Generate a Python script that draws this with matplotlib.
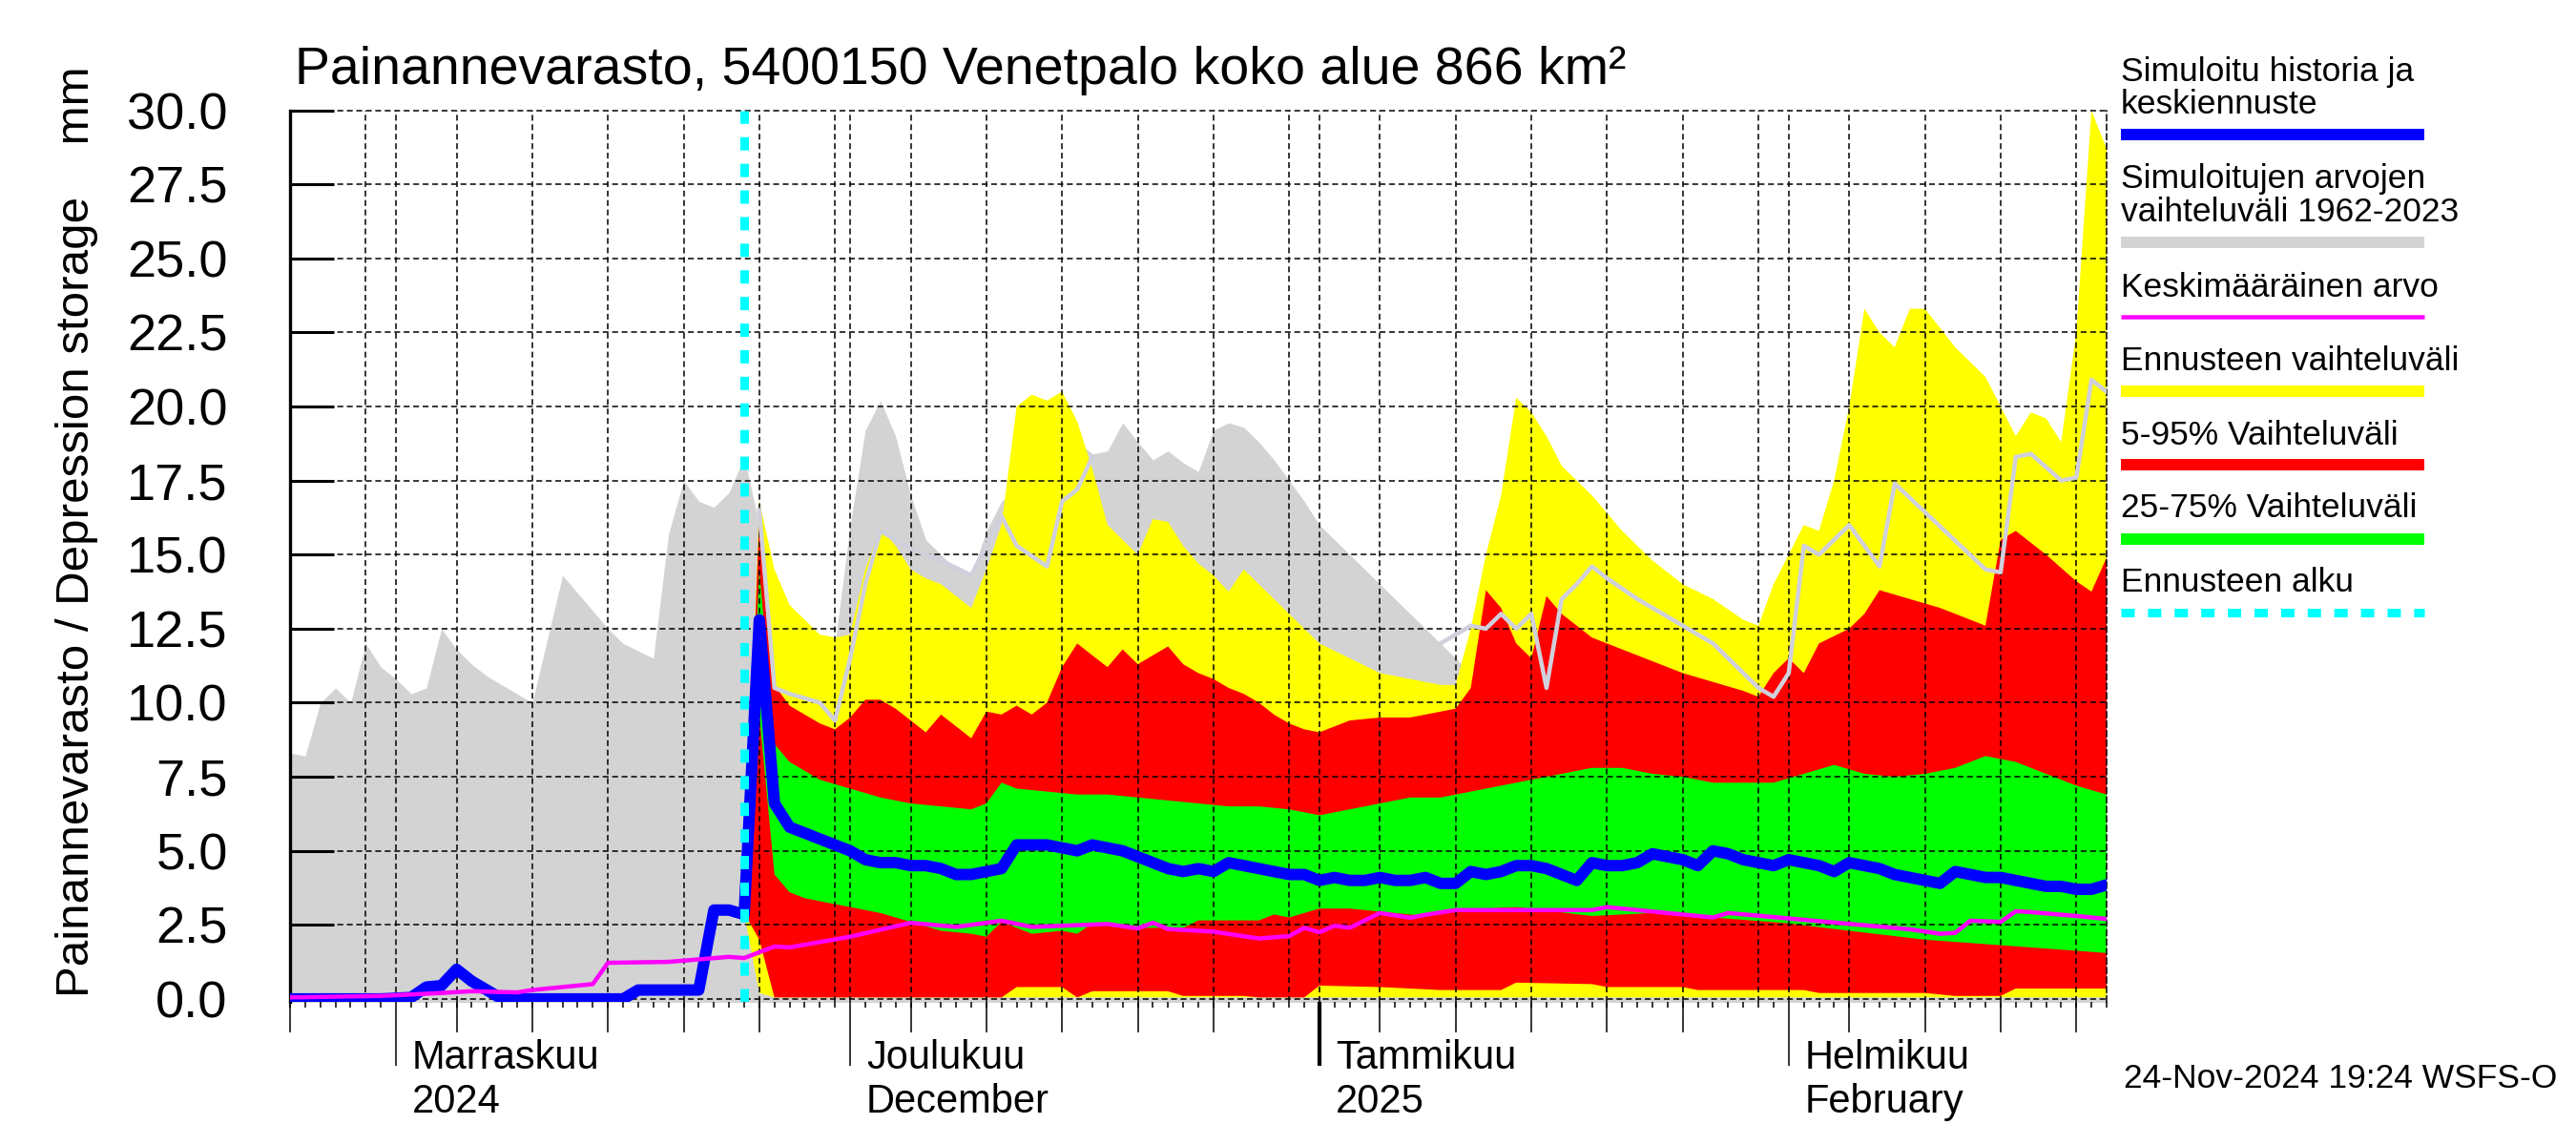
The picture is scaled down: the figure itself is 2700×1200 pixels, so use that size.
import datetime as dt
import matplotlib
matplotlib.use("Agg")
import matplotlib.pyplot as plt
import matplotlib.dates as mdates
from matplotlib.lines import Line2D
from matplotlib.ticker import FixedLocator, NullLocator

plt.rcParams['font.family'] = ['Liberation Sans', 'DejaVu Sans']

W, H = 2700, 1200
start = dt.datetime(2024, 10, 25)
fc_start = 30   # 24.11.2024

# --- data (day offsets from 25.10.2024) ---
gray_d = [0, 1, 2, 3, 4, 5, 6, 7, 8, 9, 10, 11, 12, 13, 14, 16, 18, 19, 20, 21, 22, 24, 25, 26, 27, 28, 29, 30,
          31, 32, 33, 34, 35, 36, 37, 38, 39, 40, 41, 42, 43, 44, 45, 46, 47, 48, 49, 50, 51, 52, 53, 54,
          55, 56, 57, 58, 59, 60, 61, 62, 63, 64, 65, 66, 67, 68, 70, 72, 74, 76, 78, 79, 80, 83, 86, 89,
          94, 98, 100, 103, 106, 112, 114, 118, 119, 120]
gray_v = [8.3, 8.2, 10.0, 10.5, 10.0, 12.0, 11.2, 10.8, 10.3, 10.5, 12.5, 11.8, 11.3, 10.9, 10.6, 10.0, 14.3,
          13.7, 13.1, 12.5, 12.0, 11.5, 15.7, 17.5, 16.8, 16.6, 17.1, 18.3,
          16.0, 13.5, 12.0, 12.1, 12.3, 12.0, 16.0, 19.2, 20.2, 19.0, 17.0, 15.5, 15.0, 14.5, 14.3, 15.8,
          16.8, 17.2, 17.6, 18.3, 18.6, 18.8, 18.4, 18.5, 19.45, 18.8, 18.2, 18.5, 18.1, 17.8, 19.2, 19.45,
          19.3, 18.8, 18.2, 17.5, 16.8, 16.0, 15.0, 14.0, 13.0, 12.0, 11.0, 12.5, 13.0, 10.5, 14.6, 13.5,
          12.0, 10.2, 15.3, 16.0, 17.4, 14.5, 18.3, 17.6, 20.9, 20.5]

ymax_d = [30, 31, 32, 33, 34, 35, 36, 37, 38, 39, 40, 41, 42, 43, 44, 45, 46, 47, 48, 49, 50, 51, 52, 53,
          54, 55, 56, 57, 58, 59, 60, 61, 62, 63, 64, 66, 68, 70, 72, 74, 76, 77, 78, 79, 80, 81, 82, 83,
          84, 86, 88, 90, 92, 94, 96, 97, 98, 99, 100, 101, 102, 103, 104, 105, 106, 107, 108, 110, 112,
          113, 114, 115, 116, 117, 118, 119, 120]
ymax_v = [2.9, 16.8, 14.5, 13.3, 12.8, 12.3, 12.2, 12.3, 14.5, 15.9, 15.3, 14.5, 14.2, 14.0, 13.6, 13.2,
          14.5, 16.0, 20.0, 20.4, 20.2, 20.5, 19.5, 17.9, 16.0, 15.5, 15.0, 16.2, 16.1, 15.3, 14.7, 14.3,
          13.75, 14.5, 14.0, 13.0, 12.0, 11.5, 11.0, 10.8, 10.6, 10.6, 12.5, 15.0, 17.0, 20.3, 19.8, 19.0,
          18.0, 17.0, 15.8, 14.8, 14.0, 13.5, 12.8, 12.6, 14.0, 15.0, 16.0, 15.8, 17.5, 20.0, 23.3, 22.5,
          22.0, 23.3, 23.3, 22.0, 21.0, 20.0, 19.0, 19.8, 19.6, 18.8, 22.5, 30.0, 28.7]
ymin_d = [30, 31, 32, 120]
ymin_v = [2.9, 0.2, 0.05, 0.05]

r95_d = [30, 31, 32, 33, 34, 35, 36, 37, 38, 39, 40, 41, 42, 43, 44, 45, 46, 47, 48, 49, 50, 51, 52, 53,
         54, 55, 56, 57, 58, 59, 60, 61, 62, 63, 64, 65, 66, 67, 68, 69, 70, 72, 74, 76, 77, 78, 79, 80,
         81, 82, 83, 84, 85, 86, 88, 90, 92, 94, 96, 97, 98, 99, 100, 101, 103, 104, 105, 107, 109, 111,
         112, 113, 114, 116, 118, 119, 120]
r95_v = [2.9, 16.3, 10.6, 9.9, 9.6, 9.3, 9.1, 9.5, 10.1, 10.1, 9.8, 9.4, 9.0, 9.6, 9.2, 8.8, 9.7, 9.6,
         9.9, 9.6, 10.0, 11.2, 12.0, 11.6, 11.2, 11.8, 11.3, 11.6, 11.9, 11.3, 11.0, 10.8, 10.5, 10.3,
         10.0, 9.6, 9.3, 9.1, 9.0, 9.2, 9.4, 9.5, 9.5, 9.7, 9.8, 10.5, 13.8, 13.2, 12.0, 11.5, 13.6, 13.0,
         12.6, 12.2, 11.8, 11.4, 11.0, 10.7, 10.4, 10.2, 11.0, 11.5, 11.0, 12.0, 12.5, 13.0, 13.8, 13.5,
         13.2, 12.8, 12.6, 15.5, 15.8, 15.0, 14.1, 13.75, 14.9]
r5_d = [30, 31, 32, 47, 48, 51, 52, 53, 58, 59, 63, 64, 67, 68, 72, 76, 80, 81, 86, 87, 92, 93, 100, 101,
        108, 109, 110, 113, 114, 120]
r5_v = [2.9, 2.0, 0.05, 0.05, 0.4, 0.4, 0.05, 0.26, 0.26, 0.1, 0.1, 0.05, 0.05, 0.45, 0.4, 0.3, 0.3, 0.55,
        0.5, 0.4, 0.4, 0.3, 0.3, 0.2, 0.2, 0.15, 0.1, 0.1, 0.35, 0.35]

g75_d = [30, 31, 32, 33, 34, 35, 37, 39, 41, 43, 45, 46, 47, 48, 50, 52, 54, 56, 58, 60, 62, 64, 66, 68,
         70, 72, 74, 76, 78, 80, 82, 84, 86, 88, 90, 92, 94, 96, 98, 100, 102, 104, 106, 108, 110, 112,
         114, 116, 118, 120]
g75_v = [2.9, 14.5, 8.6, 8.0, 7.7, 7.4, 7.1, 6.8, 6.6, 6.5, 6.4, 6.6, 7.3, 7.1, 7.0, 6.9, 6.9, 6.8, 6.7,
         6.6, 6.5, 6.5, 6.4, 6.2, 6.4, 6.6, 6.8, 6.8, 7.0, 7.2, 7.4, 7.6, 7.8, 7.8, 7.6, 7.5, 7.3, 7.3, 7.3,
         7.6, 7.9, 7.6, 7.5, 7.6, 7.8, 8.2, 8.0, 7.6, 7.2, 6.9]
g25_d = [30, 31, 32, 33, 34, 35, 37, 39, 41, 43, 45, 46, 47, 49, 51, 52, 53, 55, 59, 60, 64, 65, 66, 67,
         68, 70, 71, 73, 75, 77, 81, 86, 90, 94, 99, 103, 108, 120]
g25_v = [2.9, 9.6, 4.2, 3.6, 3.4, 3.3, 3.1, 2.9, 2.6, 2.3, 2.2, 2.1, 2.6, 2.2, 2.3, 2.2, 2.55, 2.4, 2.4,
         2.65, 2.65, 2.85, 2.75, 2.9, 3.05, 3.05, 3.0, 2.9, 2.8, 3.0, 3.1, 2.8, 2.9, 2.75, 2.55, 2.3, 2.0,
         1.55]

# light grey line, two visible stretches
line1_d = [31, 32, 33, 35, 36, 37, 38, 39, 41, 43, 45, 47, 48, 50, 51, 52, 53]
line1_v = [16.5, 10.5, 10.3, 10.0, 9.4, 11.5, 14.0, 15.8, 15.2, 14.8, 14.3, 16.3, 15.3, 14.6, 16.8, 17.2,
           18.3]
line2_d = [76, 78, 79, 80, 81, 82, 83, 84, 85, 86, 87, 89, 94, 97, 98, 99, 100, 101, 103, 105, 106, 112,
           113, 114, 115, 117, 118, 119, 120]
line2_v = [12.0, 12.6, 12.5, 13.0, 12.5, 13.0, 10.5, 13.5, 14.0, 14.6, 14.2, 13.5, 12.0, 10.5, 10.2, 11.0,
           15.3, 15.0, 16.0, 14.6, 17.4, 14.5, 14.4, 18.3, 18.4, 17.5, 17.6, 20.9, 20.5]

sim_d = [0, 6, 8, 9, 10, 11, 12, 13, 14, 22, 23, 27, 28, 29, 30, 31, 32, 33, 34, 35, 36, 37, 38, 39, 40,
         41, 42, 43, 44, 45, 46, 47, 48, 49, 50, 51, 52, 53, 54, 55, 56, 57, 58, 59, 60, 61, 62, 63, 64,
         65, 66, 67, 68, 69, 70, 71, 72, 73, 74, 75, 76, 77, 78, 79, 80, 81, 82, 83, 84, 85, 86, 87, 88,
         89, 90, 91, 92, 93, 94, 95, 96, 97, 98, 99, 100, 101, 102, 103, 104, 105, 106, 107, 108, 109,
         110, 111, 112, 113, 114, 115, 116, 117, 118, 119, 120]
sim_v = [0.0, 0.0, 0.05, 0.4, 0.45, 1.0, 0.6, 0.3, 0.0, 0.0, 0.3, 0.3, 3.0, 3.0, 2.85, 12.8, 6.6, 5.8,
         5.6, 5.4, 5.2, 5.0, 4.7, 4.6, 4.6, 4.5, 4.5, 4.4, 4.2, 4.2, 4.3, 4.4, 5.2, 5.2, 5.2, 5.1, 5.0, 5.2,
         5.1, 5.0, 4.8, 4.6, 4.4, 4.3, 4.4, 4.3, 4.6, 4.5, 4.4, 4.3, 4.2, 4.2, 4.0, 4.1, 4.0, 4.0, 4.1, 4.0,
         4.0, 4.1, 3.9, 3.9, 4.3, 4.2, 4.3, 4.5, 4.5, 4.4, 4.2, 4.0, 4.6, 4.5, 4.5, 4.6, 4.9, 4.8, 4.7, 4.5,
         5.0, 4.9, 4.7, 4.6, 4.5, 4.7, 4.6, 4.5, 4.3, 4.6, 4.5, 4.4, 4.2, 4.1, 4.0, 3.9, 4.3, 4.2, 4.1, 4.1,
         4.0, 3.9, 3.8, 3.8, 3.7, 3.7, 3.85]

mean_d = [0, 6, 10, 12, 15, 16, 20, 21, 25, 29, 30, 32, 33, 37, 41, 44, 47, 49, 54, 56, 57, 58, 61, 64,
          66, 67, 68, 69, 70, 72, 74, 75, 77, 86, 87, 94, 95, 107, 109, 110, 111, 113, 114, 115, 118, 120]
mean_v = [0.05, 0.1, 0.2, 0.26, 0.22, 0.3, 0.5, 1.22, 1.25, 1.42, 1.38, 1.77, 1.74, 2.1, 2.57, 2.43, 2.64,
          2.43, 2.53, 2.38, 2.57, 2.36, 2.27, 2.04, 2.12, 2.4, 2.25, 2.47, 2.4, 2.9, 2.74, 2.84, 3.0, 3.0,
          3.1, 2.75, 2.9, 2.35, 2.2, 2.23, 2.64, 2.6, 2.96, 2.93, 2.8, 2.7]

yticks = [0, 2.5, 5, 7.5, 10, 12.5, 15, 17.5, 20, 22.5, 25, 27.5, 30]
months = [(dt.datetime(2024, 11, 1), "Marraskuu", "2024"),
          (dt.datetime(2024, 12, 1), "Joulukuu", "December"),
          (dt.datetime(2025, 1, 1), "Tammikuu", "2025"),
          (dt.datetime(2025, 2, 1), "Helmikuu", "February")]
legend = [(["Simuloitu historia ja", "keskiennuste"], '#0000ff', 12, '-'),
          (["Simuloitujen arvojen", "vaihteluväli 1962-2023"], '#d3d3d3', 12, '-'),
          (["Keskimääräinen arvo"], '#ff00ff', 4.5, '-'),
          (["Ennusteen vaihteluväli"], '#ffff00', 12, '-'),
          (["5-95% Vaihteluväli"], '#ff0000', 12, '-'),
          (["25-75% Vaihteluväli"], '#00ff00', 12, '-'),
          (["Ennusteen alku"], '#00ffff', 9, '--')]


def dnum(d):
    return [mdates.date2num(start + dt.timedelta(days=x)) for x in d]


def pt(px):
    return px * 0.72


fig = plt.figure(figsize=(27, 12), dpi=100)
ax = fig.add_axes([304 / W, 150 / H, 1904 / W, (1050 - 115.6) / H])

ax.fill_between(dnum(gray_d), -1, gray_v, color='#d3d3d3', lw=0, zorder=1)
ax.fill(dnum(ymax_d + ymin_d[::-1]), ymax_v + ymin_v[::-1], color='#ffff00', lw=0, zorder=1.1)
ax.fill(dnum(r95_d + r5_d[::-1]), r95_v + r5_v[::-1], color='#ff0000', lw=0, zorder=1.2)
ax.fill(dnum(g75_d + g25_d[::-1]), g75_v + g25_v[::-1], color='#00ff00', lw=0, zorder=1.3)
for ld, lv in [(line1_d, line1_v), (line2_d, line2_v)]:
    ax.plot(dnum(ld), lv, color='#d0d0dc', lw=pt(4.5), zorder=2.6)
ax.plot(dnum(sim_d), sim_v, color='#0000ff', lw=pt(12), solid_joinstyle='round', zorder=3)
ax.plot(dnum(mean_d), mean_v, color='#ff00ff', lw=pt(4.5), zorder=3.2)
ax.axvline(dnum([fc_start])[0], color='#00ffff', lw=pt(9), ls=(0, (1.55, 1.55)), zorder=4)

x0 = mdates.date2num(start)
x1 = mdates.date2num(dt.datetime(2025, 2, 22))
ax.set_xlim(x0, x1)
ax.set_ylim(-0.1, 30)

# grid
dash = (0, (4, 2.5))
for y in yticks:
    ax.axhline(y, color='black', lw=1.1, ls=dash, zorder=2.5, clip_on=False)
day = start
grid_days = []
while day <= dt.datetime(2025, 2, 22):
    if day.day in (1, 5, 10, 15, 20, 25, 30):
        grid_days.append(day)
    day += dt.timedelta(days=1)
for g in grid_days:
    ax.axvline(mdates.date2num(g), color='black', lw=1.1, ls=dash, zorder=2.5)

for s in ['top', 'bottom']:
    ax.spines[s].set_visible(False)
ax.spines['right'].set_linestyle(dash)
ax.spines['right'].set_linewidth(1.1)
ax.spines['left'].set_linewidth(2.4)

ax.set_yticks(yticks)
ax.set_yticklabels(["%.1f" % y for y in yticks])
ax.tick_params(axis='y', direction='in', length=33, width=2.2, labelsize=39, pad=47)
ax.tick_params(axis='y', which='both', right=False)

ax.xaxis.set_major_locator(FixedLocator([mdates.date2num(m[0]) for m in months]))
ax.xaxis.set_minor_locator(mdates.DayLocator())
ax.tick_params(axis='x', which='major', length=48, width=1.1, direction='out')
ax.tick_params(axis='x', which='minor', length=4.3, width=1.1, direction='out')
ax.tick_params(axis='x', which='both', labelbottom=False)
for t, m in zip(ax.xaxis.get_major_ticks(), months):
    if m[0].month == 1:
        t.tick1line.set_markeredgewidth(3)

sec = ax.secondary_xaxis('bottom')
mid = [mdates.date2num(g) for g in grid_days if g.day in (5, 10, 15, 20, 25)]
sec.xaxis.set_major_locator(FixedLocator(mid))
sec.xaxis.set_minor_locator(NullLocator())
sec.tick_params(axis='x', length=23, width=1.1, labelbottom=False)
sec.spines['bottom'].set_visible(False)

# month labels
for m, l1, l2 in months:
    xp = ax.transData.transform((mdates.date2num(m), 0))[0] + 17
    fig.text(xp / W, 1 - 1120 / H, l1, fontsize=30, va='baseline', ha='left')
    fig.text(xp / W, 1 - 1166 / H, l2, fontsize=30, va='baseline', ha='left')

fig.text(309 / W, 1 - 88 / H, "Painannevarasto, 5400150 Venetpalo koko alue 866 km²",
         fontsize=40, va='baseline', ha='left')
fig.text(81 / W, 1 - 557 / H, "Painannevarasto / Depression storage    mm", rotation=90,
         fontsize=35.5, va='center', ha='center')
fig.text(2680 / W, 1 - 1140 / H, "24-Nov-2024 19:24 WSFS-O", fontsize=25.5, va='baseline', ha='right')

# legend
base = [[85, 119], [197, 232], [311], [388], [466], [542], [620]]
bars = [141, 254, 332, 410, 487, 565, 642]
for (lines, col, lw, ls), bl, by in zip(legend, base, bars):
    for txt, b in zip(lines, bl):
        fig.text(2223 / W, 1 - b / H, txt, fontsize=25.5, va='baseline', ha='left')
    style = (0, (1.55, 1.55)) if ls == '--' else '-'
    fig.add_artist(Line2D([2223 / W, 2541 / W], [1 - by / H, 1 - by / H], transform=fig.transFigure,
                          color=col, lw=pt(lw), ls=style, solid_capstyle='butt', dash_capstyle='butt'))

fig.savefig("out.png", dpi=100)
